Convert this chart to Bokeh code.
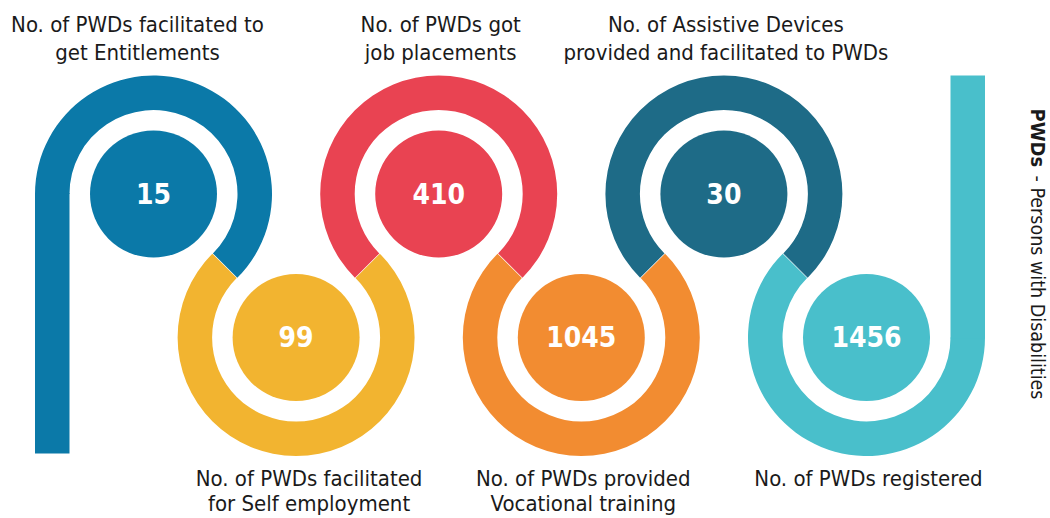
import math
from bokeh.plotting import figure
from bokeh.models import Range1d
from bokeh.core.properties import value
from bokeh.embed import file_html
from bokeh.resources import INLINE

# ---- data ----
values = [15, 99, 410, 1045, 30, 1456]
labels_line1 = ["No. of PWDs facilitated to", "No. of PWDs facilitated", "No. of PWDs got",
                "No. of PWDs provided", "No. of Assistive Devices", "No. of PWDs registered"]
labels_line2 = ["get Entitlements", "for Self employment", "job placements",
                "Vocational training", "provided and facilitated to PWDs", ""]
colors = ["#0b79a8", "#f2b430", "#e94352", "#f28c31", "#1e6b87", "#49bfcb"]
note_bold = "PWDs"
note_rest = "- Persons with Disabilities"

FONT = "DejaVu Sans Condensed"
TXT = "#1a1a1a"
SHIFT = 0.4  # baseline correction (em)

W, H = 1050, 518
def sy(y):
    return H - y

def base(y, size):
    # screen baseline y -> data y for the text anchor
    return sy(y - SHIFT * size)

p = figure(width=W, height=H, output_backend="svg", toolbar_location=None, title=None,
           x_axis_location=None, y_axis_location=None,
           x_range=Range1d(0, W), y_range=Range1d(0, H), min_border=0)
p.grid.visible = False
p.outline_line_color = None
p.background_fill_color = "white"

x0, step = 153.0, 142.6
ytop, ybot = 193.5, 337.0
r_in, r_out, r_c = 84.0, 118.5, 63.5
NUM_SIZE, LAB_SIZE, NOTE_SIZE = 28, 22, 19.5

n = len(values)
for i in range(n):
    cx = x0 + i * step
    top = (i % 2 == 0)
    cy = ytop if top else ybot
    col = colors[i]
    if top:
        start = -45
        end = 180 if i == 0 else 225
    else:
        start = 135
        end = 0 if i == n - 1 else 45
    p.annular_wedge(x=cx, y=sy(cy), inner_radius=r_in, outer_radius=r_out,
                    start_angle=math.radians(start), end_angle=math.radians(end),
                    direction="anticlock", fill_color=col, line_color=None)
    p.circle(x=cx, y=sy(cy), radius=r_c, fill_color=col, line_color=None)
    p.text(x=[cx], y=[base(cy + 10.5, NUM_SIZE)], text=[str(values[i])], text_align="center",
           text_baseline="alphabetic", text_color="white", text_font=value(FONT),
           text_font_style="bold", text_font_size=f"{NUM_SIZE}px")
    # labels
    if top:
        b1, b2 = 32.5, 60.5
    else:
        b1, b2 = 487, 512
    lx = cx - 16 if i == 0 else cx + 2
    if i == 1:
        lx = cx + 13
    p.text(x=[lx], y=[base(b1, LAB_SIZE)], text=[labels_line1[i]], text_align="center",
           text_baseline="alphabetic", text_color=TXT, text_font=value(FONT),
           text_font_size=f"{LAB_SIZE}px")
    if labels_line2[i]:
        p.text(x=[lx], y=[base(b2, LAB_SIZE)], text=[labels_line2[i]], text_align="center",
               text_baseline="alphabetic", text_color=TXT, text_font=value(FONT),
               text_font_size=f"{LAB_SIZE}px")

# vertical bars
cx0 = x0
p.quad(left=cx0 - r_out, right=cx0 - r_in, top=sy(ytop) + 1, bottom=sy(453),
       fill_color=colors[0], line_color=None)
cxl = x0 + (n - 1) * step
p.quad(left=cxl + r_in, right=cxl + r_out, top=sy(ytop - r_out), bottom=sy(ybot) - 1,
       fill_color=colors[-1], line_color=None)

# side note (rotated, reading top to bottom)
p.text(x=[1029 + SHIFT * 20], y=[sy(108)], text=[note_bold], angle=-math.pi / 2,
       text_align="left", text_baseline="alphabetic", text_color=TXT,
       text_font=value(FONT), text_font_style="bold", text_font_size="20px")
p.text(x=[1029 + SHIFT * NOTE_SIZE], y=[sy(175)], text=[note_rest], angle=-math.pi / 2,
       text_align="left", text_baseline="alphabetic", text_color=TXT,
       text_font=value(FONT), text_font_size=f"{NOTE_SIZE}px")

open("out.html", "w").write(file_html(p, INLINE))
